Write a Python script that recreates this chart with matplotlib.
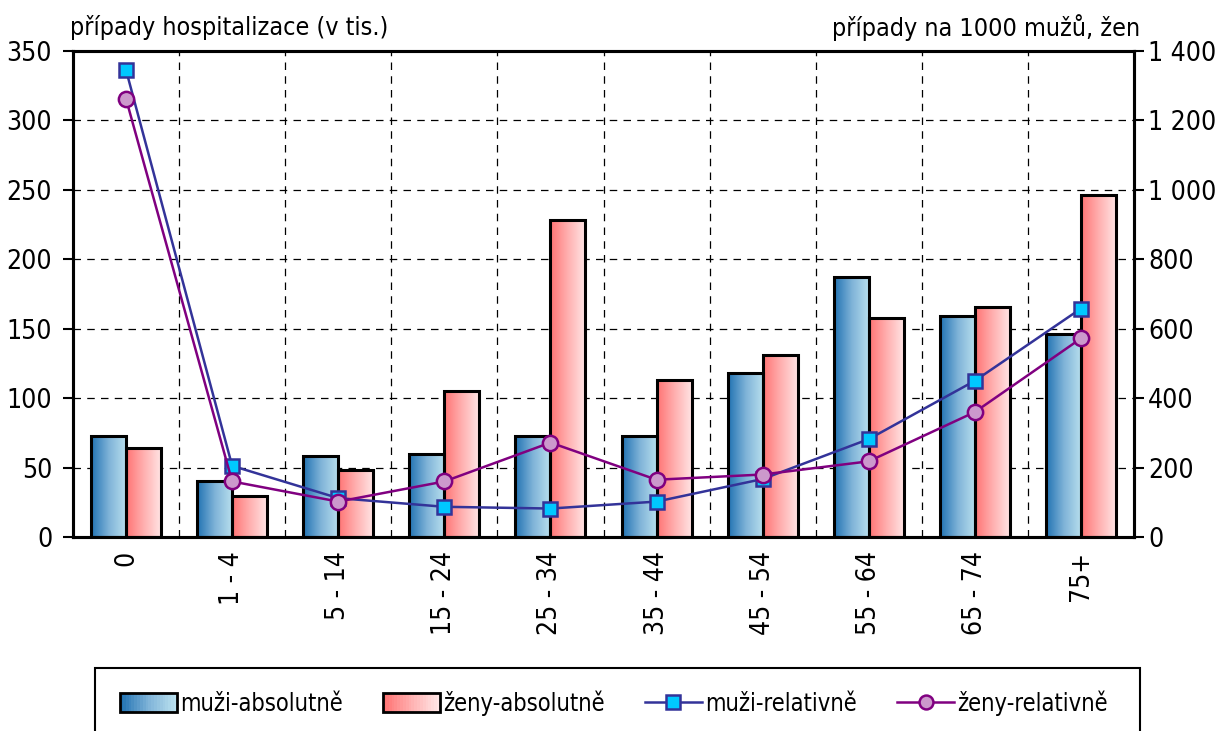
import numpy as np
import matplotlib
matplotlib.use('Agg')
import matplotlib.pyplot as plt
from matplotlib.colors import LinearSegmentedColormap
from matplotlib.patches import Rectangle
from matplotlib.legend_handler import HandlerBase
from matplotlib.lines import Line2D
from matplotlib.ticker import FuncFormatter, MultipleLocator

plt.rcParams['font.family'] = ['DejaVu Sans']
plt.rcParams['font.stretch'] = 'condensed'

vekove_skupiny = ['0', '1 - 4', '5 - 14', '15 - 24', '25 - 34', '35 - 44',
                  '45 - 54', '55 - 64', '65 - 74', '75+']
muzi_abs = [72.5, 40, 58, 60, 72.5, 73, 118, 187.5, 159, 146]
zeny_abs = [64, 29.5, 48.5, 105, 228.5, 113, 131, 158, 165.5, 246]
muzi_rel = [1345, 205, 112, 87, 82, 102, 167, 282, 450, 658]
zeny_rel = [1262, 160, 102, 160, 272, 165, 180, 218, 360, 572]

cm_blue = LinearSegmentedColormap.from_list('b', ['#2273b3', '#7fb3d8', '#b9e0ee'])
cm_pink = LinearSegmentedColormap.from_list('p', ['#ff7474', '#ffb0b0', '#ffe6e6'])
grad = np.linspace(0, 1, 64).reshape(1, -1)

fig = plt.figure(figsize=(12.21, 7.31), dpi=100)
ax = fig.add_axes([73/1221, 1-537/731, (1134-73)/1221, (537-51)/731])
ax2 = ax.twinx()

x = np.arange(len(vekove_skupiny))
w = 0.33

def grad_bars(xs, vals, cmap):
    bars = ax.bar(xs, vals, w, facecolor='none', edgecolor='black', linewidth=2.2, zorder=3)
    for b in bars:
        x0, y0 = b.get_x(), b.get_y()
        im = ax.imshow(grad, cmap=cmap, aspect='auto', zorder=2,
                       extent=[x0, x0 + b.get_width(), y0, y0 + b.get_height()])
        im.set_clip_path(b)

grad_bars(x - w/2, muzi_abs, cm_blue)
grad_bars(x + w/2, zeny_abs, cm_pink)

ax.set_xlim(-0.5, len(x) - 0.5)
ax.set_ylim(0, 350)
ax.yaxis.set_major_locator(MultipleLocator(50))
ax.set_xticks(x)
ax.set_xticklabels(vekove_skupiny, rotation=90, va='top', ha='center')
ax.set_xticks(x[:-1] + 0.5, minor=True)
ax.tick_params(axis='x', which='both', length=0, pad=10, labelsize=19)
ax.tick_params(axis='y', length=7, width=1.5, labelsize=19, direction='out', pad=8)
ax.grid(True, which='minor', axis='x', color='black', linestyle=(0, (6, 5)), linewidth=0.9)
ax.grid(True, which='major', axis='y', color='black', linestyle=(0, (6, 5)), linewidth=0.9)
ax.set_axisbelow(True)
for s in ax.spines.values():
    s.set_linewidth(2.2)

ax2.plot(x, muzi_rel, color='#333399', linewidth=1.8, marker='s', markersize=10,
         markerfacecolor='#00c8ff', markeredgecolor='#333399', markeredgewidth=1.8, zorder=5)
ax2.plot(x, zeny_rel, color='#800080', linewidth=1.8, marker='o', markersize=11,
         markerfacecolor='#cc99cc', markeredgecolor='#800080', markeredgewidth=1.8, zorder=5)
ax2.set_ylim(0, 1400)
ax2.yaxis.set_major_locator(MultipleLocator(200))
ax2.yaxis.set_major_formatter(FuncFormatter(lambda v, p: f'{int(v):,}'.replace(',', ' ')))
ax2.tick_params(axis='y', length=7, width=1.5, labelsize=19, direction='out', pad=3)
for s in ax2.spines.values():
    s.set_linewidth(2.2)

fig.text(70/1221, 1-28/731, 'případy hospitalizace (v tis.)', fontsize=18, ha='left', va='center')
fig.text(1140/1221, 1-28/731, 'případy na 1000 mužů, žen', fontsize=18, ha='right', va='center')

# legend
class GradHandler(HandlerBase):
    def __init__(self, cmap):
        super().__init__()
        self.cmap = cmap

    def create_artists(self, legend, orig, xd, yd, width, height, fontsize, trans):
        arts = []
        n = 20
        for i in range(n):
            arts.append(Rectangle((-xd + width*i/n, -yd), width/n + 0.3, height,
                                  facecolor=self.cmap(i/(n-1)), edgecolor='none', transform=trans))
        arts.append(Rectangle((-xd, -yd), width, height, facecolor='none',
                              edgecolor='black', linewidth=2, transform=trans))
        return arts

h_blue = Rectangle((0, 0), 1, 1)
h_pink = Rectangle((0, 0), 1, 1)
h_m = Line2D([], [], color='#333399', linewidth=1.8, marker='s', markersize=10,
             markerfacecolor='#00c8ff', markeredgecolor='#333399', markeredgewidth=1.8)
h_z = Line2D([], [], color='#800080', linewidth=1.8, marker='o', markersize=10,
             markerfacecolor='#cc99cc', markeredgecolor='#800080', markeredgewidth=1.8)

fig.patches.append(Rectangle((95/1221, -0.05), 1045/1221, (731-668)/731 + 0.05,
                             transform=fig.transFigure, facecolor='white',
                             edgecolor='black', linewidth=1.5))
fig.legend([h_blue, h_pink, h_m, h_z],
           ['muži-absolutně', 'ženy-absolutně', 'muži-relativně', 'ženy-relativně'],
           handler_map={h_blue: GradHandler(cm_blue), h_pink: GradHandler(cm_pink)},
           loc='center', bbox_to_anchor=(614/1221, 1-703/731), ncol=4, frameon=False,
           fontsize=17, handlelength=2.4, handleheight=0.9, handletextpad=0.15,
           columnspacing=1.7)

fig.savefig('out.png', dpi=100)
